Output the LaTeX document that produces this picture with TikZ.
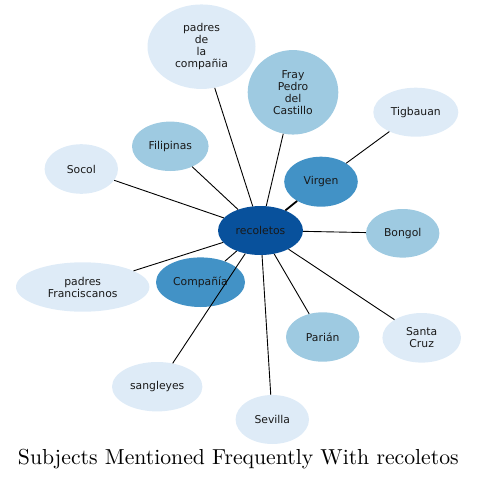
\documentclass[tikz,border=0pt]{standalone}
\usepackage{fontspec}
\newfontfamily\dejavu{DejaVu Sans}
\usetikzlibrary{shapes.geometric}
\definecolor{cA}{RGB}{222,235,247}
\definecolor{cB}{RGB}{158,202,225}
\definecolor{cC}{RGB}{66,146,198}
\definecolor{cD}{RGB}{8,81,156}
\tikzset{
  ent/.style={ellipse, inner sep=0pt, align=center, font=\dejavu\fontsize{10.8}{12}\selectfont, text=black!90},
  lite/.style={ent, fill=cA},
  mid/.style={ent, fill=cB},
  deep/.style={ent, fill=cC},
  hub/.style={ent, fill=cD},
  link/.style={draw=black, line width=0.9pt},
  strong/.style={draw=black, line width=1.8pt},
}
\begin{document}
\begin{tikzpicture}[x=1pt,y=-1pt]
\useasboundingbox (0,0) rectangle (477,479);
\node[hub, minimum width=85pt, minimum height=49pt] (rec) at (260.5,230.5) {recoletos};
\node[lite, minimum width=108pt, minimum height=84.5pt] (pdc) at (201.5,46.7) {padres\\de\\la\\compañia};
\node[mid, minimum width=90.6pt, minimum height=84.5pt] (fray) at (293,92.3) {Fray\\Pedro\\del\\Castillo};
\node[lite, minimum width=85pt, minimum height=49pt] (tig) at (415.8,112.2) {Tigbauan};
\node[mid, minimum width=76.6pt, minimum height=49.4pt] (fil) at (170.3,146.3) {Filipinas};
\node[lite, minimum width=73.4pt, minimum height=49.6pt] (soc) at (81.3,169) {Socol};
\node[deep, minimum width=73.6pt, minimum height=50pt] (vir) at (321,181.7) {Virgen};
\node[mid, minimum width=73.4pt, minimum height=48.6pt] (bon) at (402.7,233.3) {Bongol};
\node[lite, minimum width=133.4pt, minimum height=49.4pt] (pfr) at (82.7,287) {padres\\Franciscanos};
\node[deep, minimum width=89pt, minimum height=49.6pt] (com) at (200.5,282.2) {Compañía};
\node[mid, minimum width=73.4pt, minimum height=49.4pt] (par) at (322.7,337) {Parián};
\node[lite, minimum width=78.6pt, minimum height=49.6pt] (sc) at (421.7,337.8) {Santa\\Cruz};
\node[lite, minimum width=90.4pt, minimum height=49.4pt] (san) at (157.2,386.7) {sangleyes};
\node[lite, minimum width=73.4pt, minimum height=49pt] (sev) at (272.3,419.5) {Sevilla};
\draw[link] (rec) -- (pdc);
\draw[link] (rec) -- (fray);
\draw[link] (rec) -- (fil);
\draw[link] (rec) -- (soc);
\draw[strong] (rec) -- (vir);
\draw[link] (vir) -- (tig);
\draw[link] (rec) -- (bon);
\draw[link] (rec) -- (pfr);
\draw[link] (rec) -- (com);
\draw[link] (rec) -- (par);
\draw[link] (rec) -- (sc);
\draw[link] (rec) -- (san);
\draw[link] (rec) -- (sev);
\node[scale=2.17, inner sep=0pt, anchor=base] (title) at (238.3,464) {\fontsize{10}{12}\selectfont Subjects Mentioned Frequently With recoletos};
\end{tikzpicture}
\end{document}
